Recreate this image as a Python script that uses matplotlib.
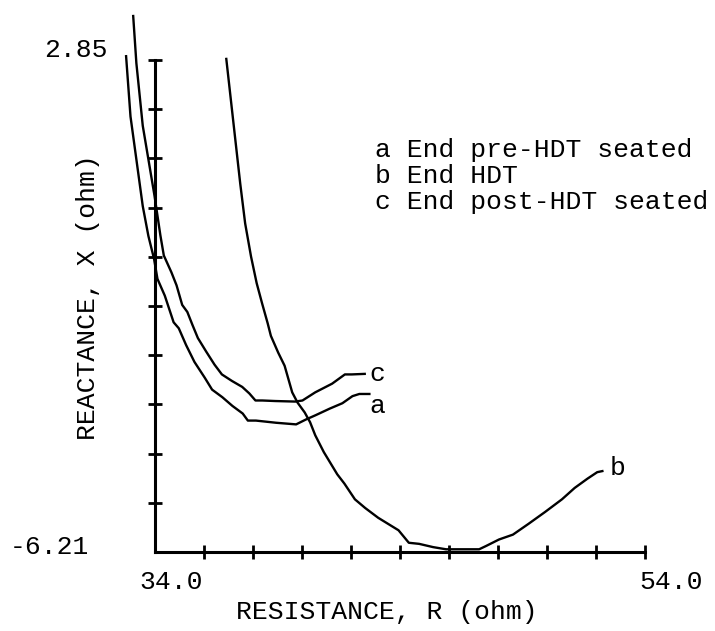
import matplotlib.pyplot as plt
import numpy as np

plt.rcParams["font.family"] = ["Liberation Mono", "DejaVu Sans Mono"]

# impedance loci: resistance R (ohm) vs reactance X (ohm)
a_r = [32.82, 33.00, 33.50, 33.73, 33.96, 34.10, 34.40, 34.76, 34.97, 35.27,
       35.61, 36.03, 36.33, 36.75, 37.16, 37.58, 37.79, 38.12, 38.94, 39.76,
       40.16, 40.56, 41.13, 41.65, 42.06, 42.34, 42.75]
a_x = [2.92, 1.81, 0.16, -0.39, -0.81, -1.18, -1.49, -1.98, -2.09, -2.40,
       -2.71, -3.00, -3.22, -3.36, -3.52, -3.66, -3.79, -3.79, -3.83, -3.86,
       -3.77, -3.69, -3.57, -3.47, -3.34, -3.30, -3.30]

b_r = [36.91, 37.16, 37.48, 37.68, 37.92, 38.15, 38.37, 38.60, 38.73, 39.03,
       39.29, 39.60, 39.82, 40.11, 40.33, 40.54, 40.89, 41.44, 41.73, 42.16,
       42.58, 43.11, 43.94, 44.36, 44.78, 45.35, 45.88, 47.23, 47.51, 48.04,
       48.61, 49.25, 49.93, 50.61, 51.13, 51.65, 52.05, 52.26]
b_x = [2.87, 1.86, 0.57, -0.16, -0.77, -1.26, -1.63, -2.00, -2.23, -2.54,
       -2.78, -3.27, -3.46, -3.64, -3.82, -4.06, -4.37, -4.78, -4.95, -5.24,
       -5.40, -5.58, -5.81, -6.04, -6.06, -6.12, -6.16, -6.16, -6.10, -5.98,
       -5.89, -5.69, -5.47, -5.24, -5.03, -4.86, -4.74, -4.72]

c_r = [33.11, 33.24, 33.50, 33.98, 34.22, 34.36, 34.67, 34.88, 35.11, 35.32,
       35.53, 35.75, 36.09, 36.43, 36.73, 37.14, 37.56, 37.85, 38.10, 38.38,
       38.91, 39.73, 40.02, 40.54, 41.23, 41.75, 42.03, 42.56]
c_x = [3.66, 2.79, 1.64, 0.35, -0.38, -0.75, -1.06, -1.30, -1.66, -1.79,
       -2.03, -2.27, -2.52, -2.76, -2.94, -3.06, -3.17, -3.29, -3.42, -3.42,
       -3.43, -3.44, -3.42, -3.27, -3.11, -2.94, -2.94, -2.93]

legend_lines = ["a End pre-HDT seated", "b End HDT", "c End post-HDT seated"]

R_MIN, R_MAX = 34.0, 54.0
X_MIN, X_MAX = -6.21, 2.85

W, H = 715, 631
fig = plt.figure(figsize=(W / 100, H / 100), dpi=100)
ax = fig.add_axes([155 / W, 79 / H, 490 / W, 492 / H])
ax.set_xlim(R_MIN, R_MAX)
ax.set_ylim(X_MIN, X_MAX)

for side in ("top", "right"):
    ax.spines[side].set_visible(False)
for side in ("left", "bottom"):
    ax.spines[side].set_linewidth(2.2)

# 10 divisions on each axis, corner tick left out
ax.set_xticks(np.linspace(R_MIN, R_MAX, 11)[1:])
ax.set_yticks(np.linspace(X_MIN, X_MAX, 11)[1:])
ax.tick_params(direction="inout", length=10, width=2,
               labelleft=False, labelbottom=False)

line_kw = dict(color="black", lw=1.7, clip_on=False, solid_joinstyle="round")
curves = [("a", a_r, a_x, (0, -9)), ("b", b_r, b_x, (5, 2)),
          ("c", c_r, c_x, (3, 0))]
for name, r, x, off in curves:
    ax.plot(r, x, **line_kw)
    ax.annotate(name, (r[-1], x[-1]), xytext=off, textcoords="offset points",
                ha="left", va="center", fontsize=19, annotation_clip=False)

fs = 19
fig.text(108 / W, 1 - 50 / H, "2.85", ha="right", va="center", fontsize=fs)
fig.text(89 / W, 1 - 547 / H, "-6.21", ha="right", va="center", fontsize=fs)
fig.text(171 / W, 1 - 582 / H, "34.0", ha="center", va="center", fontsize=fs)
fig.text(671 / W, 1 - 582 / H, "54.0", ha="center", va="center", fontsize=fs)
fig.text(387 / W, 1 - 612 / H, "RESISTANCE, R (ohm)", ha="center",
         va="center", fontsize=fs)
fig.text(88 / W, 1 - 297 / H, "REACTANCE, X (ohm)", ha="center",
         va="center", rotation=90, fontsize=fs)

for i, txt in enumerate(legend_lines):
    fig.text(375 / W, 1 - (150 + 26 * i) / H, txt, ha="left", va="center",
             fontsize=fs)

fig.savefig("out.png", dpi=100)
